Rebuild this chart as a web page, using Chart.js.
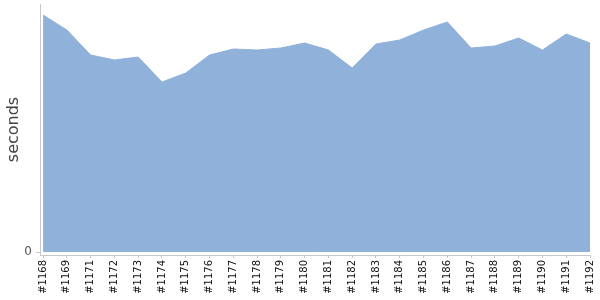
<!DOCTYPE html>
<html>
<head>
<meta charset="utf-8">
<script src="https://cdn.jsdelivr.net/npm/chart.js@4"></script>
<style>
html,body{margin:0;padding:0;background:#fff;}
#wrap{width:600px;height:300px;position:relative;}
</style>
</head>
<body>
<div id="wrap"><canvas id="c" width="600" height="300"></canvas></div>
<script>
const categories = ['#1168','#1169','#1171','#1172','#1173','#1174','#1175','#1176','#1177','#1178','#1179','#1180','#1181','#1182','#1183','#1184','#1185','#1186','#1187','#1188','#1189','#1190','#1191','#1192'];
const seconds = [237,222,197,192,195,170,179,197,203,202,204,209,202,184,208,212,222,230,204,206,214,202,218,209];
const yTicks = [0];

const points = seconds.map((v,i)=>({x:i,y:v}));

new Chart(document.getElementById('c'), {
  type: 'line',
  data: {
    datasets: [{
      data: points,
      fill: 'origin',
      backgroundColor: '#8fb1da',
      borderColor: '#8fb1da',
      borderWidth: 1,
      pointRadius: 0,
      tension: 0
    }]
  },
  options: {
    responsive: false,
    animation: false,
    layout: { padding: { top: 4, right: 10, left: 0, bottom: 0 } },
    plugins: { legend: { display: false }, tooltip: { enabled: false } },
    scales: {
      x: {
        type: 'linear',
        min: -0.13,
        max: categories.length - 1,
        afterFit: s => { s.height = 45; s.paddingLeft = 0; s.paddingRight = 0; },
        afterBuildTicks: s => { s.ticks = categories.map((c,i)=>({value:i})); },
        grid: { display: true, drawOnChartArea: false, tickLength: 3, color: '#c8c8c8' },
        border: { display: true, color: '#c8c8c8' },
        ticks: {
          autoSkip: false,
          maxRotation: 90, minRotation: 90,
          padding: 2,
          color: '#111',
          font: { family: 'DejaVu Sans', size: 10 },
          callback: (v) => categories[v] !== undefined ? categories[v] : ''
        }
      },
      y: {
        min: -3,
        max: 248,
        afterFit: s => { s.width = 40; s.paddingTop = 0; s.paddingBottom = 0; },
        afterBuildTicks: s => { s.ticks = yTicks.map(v=>({value:v})); },
        grid: { display: true, drawOnChartArea: false, tickLength: 4, color: '#c8c8c8' },
        border: { display: true, color: '#c8c8c8' },
        ticks: {
          padding: 4,
          color: '#555',
          font: { family: 'DejaVu Sans', size: 12 }
        },
        title: {
          display: true,
          text: 'seconds',
          color: '#444',
          padding: { top: 4, bottom: 0 },
          font: { family: 'DejaVu Sans', size: 16 }
        }
      }
    }
  }
});
</script>
</body>
</html>
